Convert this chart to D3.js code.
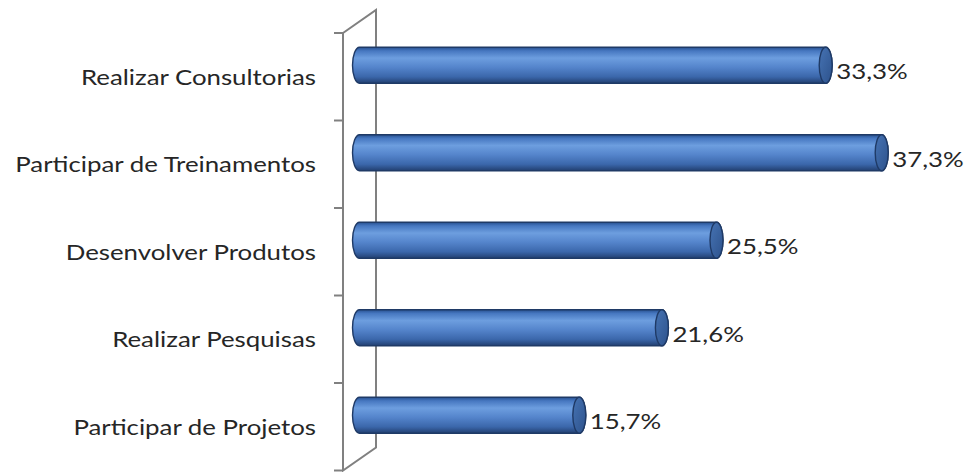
<!DOCTYPE html>
<html>
<head>
<meta charset="utf-8">
<script src="https://cdn.jsdelivr.net/npm/d3@7"></script>
<style>
  html, body { margin: 0; padding: 0; background: #ffffff; }
  svg { display: block; }
  text { font-family: Lato, "Open Sans", sans-serif; fill: #262626; }
</style>
</head>
<body>
<script>
// Activities and share of respondents (%)
const categories = [
  "Realizar Consultorias",
  "Participar de Treinamentos",
  "Desenvolver Produtos",
  "Realizar Pesquisas",
  "Participar de Projetos"
];
const values = [33.3, 37.3, 25.5, 21.6, 15.7];
const xDomain = [0, 40];

const W = 966, H = 472;
const svg = d3.select("body").append("svg").attr("width", W).attr("height", H);

// 3D box: front plane origin, depth offset toward the back wall
const front = { left: 343, top: 33, bottom: 470.5 };
const depth = { dx: 33, dy: -23 };

const x = d3.scaleLinear().domain(xDomain).range([front.left, front.left + 560]);
const y = d3.scaleBand().domain(categories).range([front.top, front.bottom]).padding(0);

// Text is drawn slightly widened
const textStretch = 1.23;

// Cylinder shading
const defs = svg.append("defs");
const bodyGrad = defs.append("linearGradient")
  .attr("id", "cylBody").attr("x1", 0).attr("y1", 0).attr("x2", 0).attr("y2", 1);
[[0, "#27508f"], [0.1, "#4677c0"], [0.3, "#6d9edf"], [0.55, "#5585cc"],
 [0.82, "#3b67ab"], [1, "#223f70"]].forEach(([o, c]) =>
  bodyGrad.append("stop").attr("offset", o).attr("stop-color", c));
const capGrad = defs.append("linearGradient")
  .attr("id", "cylCap").attr("x1", 0).attr("y1", 0).attr("x2", 1).attr("y2", 1);
[[0, "#4673b3"], [1, "#2d528c"]].forEach(([o, c]) =>
  capGrad.append("stop").attr("offset", o).attr("stop-color", c));

// Wall / axis frame
const axisColor = "#808080";
const frame = svg.append("g").attr("fill", "none").attr("stroke", axisColor).attr("stroke-width", 2);
frame.append("path").attr("d",
  `M${front.left},${front.top} L${front.left + depth.dx},${front.top + depth.dy}` +
  ` L${front.left + depth.dx},${front.bottom + depth.dy}` +
  ` L${front.left},${front.bottom} Z`);

// Category axis ticks at band boundaries, labels at band centres
const tickYs = categories.map(c => y(c)).concat([front.bottom]);
frame.selectAll("line.tick").data(tickYs).join("line")
  .attr("class", "tick")
  .attr("x1", front.left - 9).attr("x2", front.left)
  .attr("y1", d => d).attr("y2", d => d);

svg.append("g").selectAll("text").data(categories).join("text")
  .attr("transform", d => `translate(316,${y(d) + y.bandwidth() / 2 + 8}) scale(${textStretch},1)`)
  .attr("text-anchor", "end")
  .attr("font-size", 21)
  .text(d => d);

// Bars as horizontal cylinders sitting at mid depth
const ox = depth.dx / 2, oy = depth.dy / 2;
const ry = 18, rxL = 7, rxR = 6.5;
const bars = svg.append("g").selectAll("g").data(categories).join("g");

bars.append("path")
  .attr("d", (d, i) => {
    const cy = y(d) + y.bandwidth() / 2 + oy;
    const x0 = x(0) + ox, x1 = x(values[i]) + ox;
    const t = cy - ry, b = cy + ry;
    return `M${x0},${t} L${x1},${t} A${rxR},${ry} 0 0 1 ${x1},${b}` +
           ` L${x0},${b} A${rxL},${ry} 0 0 1 ${x0},${t} Z`;
  })
  .attr("fill", "url(#cylBody)")
  .attr("stroke", "#1f3a66").attr("stroke-width", 1.4);

bars.append("ellipse")
  .attr("cx", (d, i) => x(values[i]) + ox)
  .attr("cy", d => y(d) + y.bandwidth() / 2 + oy)
  .attr("rx", rxR).attr("ry", ry)
  .attr("fill", "url(#cylCap)")
  .attr("stroke", "#1f3a66").attr("stroke-width", 1.4);

const fmt = v => v.toFixed(1).replace(".", ",") + "%";
bars.append("text")
  .attr("transform", (d, i) =>
    `translate(${x(values[i]) + ox + rxR + 4},${y(d) + y.bandwidth() / 2 + oy + 14}) scale(${textStretch},1)`)
  .attr("font-size", 21)
  .text((d, i) => fmt(values[i]));
</script>
</body>
</html>
